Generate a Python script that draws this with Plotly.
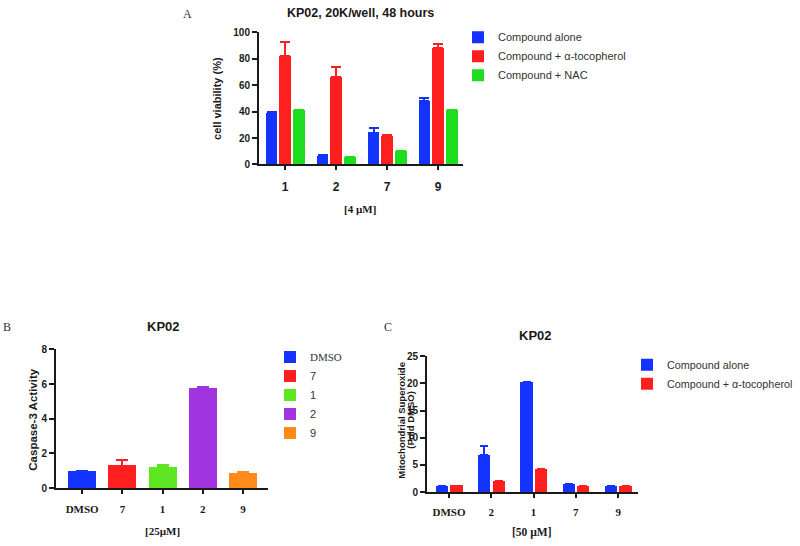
import plotly.graph_objects as go

W, H = 800, 546

# ---------------- Data ----------------
# Panel A
cats_a = ["1", "2", "7", "9"]
series_a = ["Compound alone", "Compound + \u03b1-tocopherol", "Compound + NAC"]
alone_a = [39, 6, 24, 48]
alone_err_a = [1, 1, 3.5, 2.5]
toco_a = [82, 66, 21, 88]
toco_err_a = [11, 8, 1.5, 3]
nac_a = [41, 5.5, 10, 41]
nac_err_a = [0, 0, 0, 0]
yticks_a = [0, 20, 40, 60, 80, 100]

# Panel B
cats_b = ["DMSO", "7", "1", "2", "9"]
vals_b = [1.0, 1.3, 1.22, 5.78, 0.85]
errs_b = [0, 0.32, 0.12, 0.05, 0.07]
yticks_b = [0, 2, 4, 6, 8]

# Panel C
cats_c = ["DMSO", "2", "1", "7", "9"]
series_c = ["Compound alone", "Compound + \u03b1-tocopherol"]
alone_c = [1.1, 6.8, 20.2, 1.5, 1.1]
alone_err_c = [0, 1.6, 0, 0, 0]
toco_c = [1.2, 2.0, 4.2, 1.1, 1.1]
toco_err_c = [0, 0, 0, 0, 0]
yticks_c = [0, 5, 10, 15, 20, 25]

# ---------------- Styling ----------------
BLUE = "#1433ff"
RED = "#ff1f1f"
GREEN = "#1edc1e"
LIME = "#5ee622"
PURPLE = "#a233e0"
ORANGE = "#ff8a1a"
AX = "#1a1a1a"
SANS = "Liberation Sans, Arial, sans-serif"
SERIF = "Liberation Serif, Times New Roman, serif"


def px_x(p):
    return p / W


def px_y(p):
    return 1 - p / H


fig = go.Figure()


def err(arr, color, half=5):
    return dict(type="data", array=arr, arrayminus=[0] * len(arr), symmetric=False,
                color=color, thickness=2, width=half, visible=True)


# Panel A traces
wa, sa = 0.235, 0.265
for i, (name, vals, errs, col) in enumerate(zip(
        series_a, [alone_a, toco_a, nac_a], [alone_err_a, toco_err_a, nac_err_a],
        [BLUE, RED, GREEN])):
    fig.add_trace(go.Bar(
        x=cats_a, y=vals, name=name, xaxis="x", yaxis="y",
        width=wa, offset=(i - 1) * sa - wa / 2,
        marker=dict(color=col, line=dict(width=0)),
        error_y=err(errs, col), legend="legend"))

# Panel B traces
for c, v, e, col in zip(cats_b, vals_b, errs_b, [BLUE, RED, LIME, PURPLE, ORANGE]):
    label = f'<span style="font-family:{SERIF.split(",")[0]}">{c}</span>' if c == "DMSO" else c
    fig.add_trace(go.Bar(
        x=[c], y=[v], name=label, xaxis="x2", yaxis="y2",
        width=0.7, offset=-0.35,
        marker=dict(color=col, line=dict(width=0)),
        error_y=err([e], col, 6), legend="legend2"))

# Panel C traces
wc = 0.29
for name, vals, errs, col, off in zip(
        series_c, [alone_c, toco_c], [alone_err_c, toco_err_c], [BLUE, RED], [-0.31, 0.03]):
    fig.add_trace(go.Bar(
        x=cats_c, y=vals, name=name, xaxis="x3", yaxis="y3",
        width=wc, offset=off,
        marker=dict(color=col, line=dict(width=0)),
        error_y=err(errs, col, 4), legend="legend3"))


def xax(domain, rng, cats, font, size, standoff):
    return dict(domain=domain, range=rng, type="category", categoryorder="array",
                categoryarray=cats, showline=True, linecolor=AX, linewidth=2,
                ticks="outside", ticklen=4, tickwidth=1.5, tickcolor=AX,
                tickfont=dict(family=font, size=size, color="#1a1a1a", weight="bold"),
                ticklabelstandoff=standoff, showgrid=False, zeroline=False,
                fixedrange=True)


def yax(domain, rng, tickvals, anchor):
    return dict(domain=domain, range=rng, tickvals=tickvals, anchor=anchor,
                showline=True, linecolor=AX, linewidth=2,
                ticks="outside", ticklen=5, tickwidth=1.5, tickcolor=AX,
                tickfont=dict(family=SANS, size=10, color="#1a1a1a", weight="bold"),
                showgrid=False, zeroline=False, fixedrange=True)


legend_common = dict(bgcolor="rgba(0,0,0,0)", borderwidth=0, xanchor="left", yanchor="top",
                     traceorder="normal", itemclick=False, itemdoubleclick=False)

fig.update_layout(
    width=W, height=H, margin=dict(l=0, r=0, t=0, b=0),
    paper_bgcolor="white", plot_bgcolor="white",
    barmode="overlay", bargap=0,
    showlegend=True,
    xaxis=xax([px_x(259), px_x(463)], [-0.51, 3.49], cats_a, SANS, 12, 6) | dict(anchor="y"),
    yaxis=yax([px_y(162), px_y(27)], [0, 100], yticks_a, "x"),
    xaxis2=xax([px_x(56), px_x(268)], [-0.65, 4.62], cats_b, SERIF, 11, 6) | dict(anchor="y2"),
    yaxis2=yax([px_y(493), px_y(351)], [0, 8], yticks_b, "x2"),
    xaxis3=xax([px_x(427), px_x(638)], [-0.52, 4.47], cats_c, SERIF, 11, 5) | dict(anchor="y3"),
    yaxis3=yax([px_y(497), px_y(358)], [0, 25], yticks_c, "x3"),
    legend=legend_common | dict(x=px_x(458), y=px_y(17),
                                font=dict(family=SANS, size=11, color="#333")),
    legend2=legend_common | dict(x=px_x(270), y=px_y(344),
                                 font=dict(family=SANS, size=11, color="#333")),
    legend3=legend_common | dict(x=px_x(627), y=px_y(352),
                                 font=dict(family=SANS, size=10.8, color="#333")),
)


def ann(text, x, y, size, family=SANS, bold=True, angle=0, color="#1a1a1a"):
    fig.add_annotation(text=text, x=px_x(x), y=px_y(y), xref="paper", yref="paper",
                       showarrow=False, xanchor="center", yanchor="middle", textangle=angle,
                       font=dict(family=family, size=size, color=color,
                                 weight="bold" if bold else "normal"))


# Panel letters
ann("A", 187, 8, 12, SERIF, bold=False, color="#333")
ann("B", 7, 328, 12, SERIF, bold=False, color="#333")
ann("C", 388, 328, 12, SERIF, bold=False, color="#333")

# Titles
ann("KP02, 20K/well, 48 hours", 360, 7, 12.5)
ann("KP02", 163, 328, 13)
ann("KP02", 535, 337, 13)

# X-axis titles
ann("[4 \u00b5M]", 360, 208, 11, SERIF)
ann("[25\u00b5M]", 162, 537, 11, SERIF)
ann("[50 \u00b5M]", 532, 538, 11.5, SERIF)

# Y-axis titles
ann("cell viability (%)", 217, 95, 11, angle=-90)
ann("Caspase-3 Activity", 33, 423, 11.5, angle=-90)
ann("Mitochondrial Superoxide", 402, 423, 9.5, angle=-90)
ann("(Fold DMSO)", 411, 423, 9.5, angle=-90)

fig.write_html("out.html", config={"displayModeBar": False},
               post_script="document.body.style.margin='0';document.body.style.overflow='hidden';")
